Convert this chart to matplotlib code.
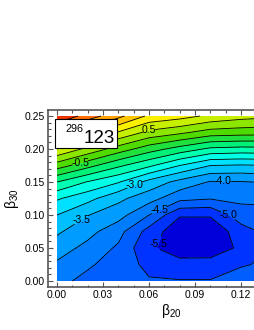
import numpy as np
import matplotlib
matplotlib.use("Agg")
import matplotlib.pyplot as plt
from matplotlib.patches import Rectangle
from matplotlib.ticker import MultipleLocator

plt.rcParams['font.family'] = ['Liberation Sans', 'DejaVu Sans']
plt.rcParams['axes.unicode_minus'] = False
plt.rcParams['contour.negative_linestyle'] = 'solid'

# grid (energy in MeV)
beta20 = [0.00, 0.02, 0.04, 0.06, 0.08, 0.10, 0.12, 0.14]
beta30 = [0.000, 0.025, 0.050, 0.075, 0.100, 0.125, 0.150, 0.175, 0.200, 0.225, 0.250]
energy = [
    [-4.38, -4.62, -4.80, -4.95, -4.97, -4.97, -4.75, -4.60],
    [-4.08, -4.44, -4.69, -5.15, -5.34, -5.33, -5.05, -4.90],
    [-3.76, -4.15, -4.58, -5.42, -5.75, -5.75, -5.42, -4.95],
    [-3.42, -3.83, -4.32, -5.20, -5.85, -5.85, -5.25, -4.80],
    [-3.00, -3.48, -3.80, -4.50, -5.45, -5.45, -4.70, -4.70],
    [-2.44, -2.84, -3.38, -3.80, -4.35, -4.47, -4.40, -4.35],
    [-1.50, -2.03, -2.46, -3.17, -3.66, -4.04, -4.03, -3.95],
    [-0.25, -0.83, -1.40, -1.90, -2.50, -3.00, -3.05, -3.00],
    [1.00, 0.36, -0.23, -0.77, -1.20, -1.60, -1.67, -1.65],
    [2.25, 1.60, 0.95, 0.36, 0.10, -0.22, -0.28, -0.30],
    [3.50, 2.77, 2.15, 1.40, 1.20, 0.90, 0.70, 0.60],
]

# contour labels: level, position
label_levels = [-0.5, 0.5, -3.0, -3.5, -4.0, -4.5, -5.0, -5.5]
label_x = [0.015, 0.060, 0.050, 0.016, 0.108, 0.066, 0.113, 0.067]
label_y = [0.180, 0.228, 0.150, 0.092, 0.155, 0.112, 0.108, 0.055]

levels = np.arange(-6.0, 3.51, 0.5)
band_colors = [
    (0.00, 0.00, 0.86), (0.00, 0.20, 1.00), (0.00, 0.37, 1.00), (0.00, 0.49, 1.00),
    (0.00, 0.61, 1.00), (0.00, 0.75, 1.00), (0.00, 0.88, 1.00), (0.00, 1.00, 0.90),
    (0.00, 1.00, 0.70), (0.00, 0.94, 0.47), (0.12, 0.88, 0.24), (0.31, 0.86, 0.00),
    (0.55, 0.90, 0.00), (0.78, 0.94, 0.00), (0.98, 0.94, 0.00), (1.00, 0.78, 0.00),
    (1.00, 0.63, 0.00), (1.00, 0.43, 0.00), (0.94, 0.20, 0.00),
]

fig = plt.figure(figsize=(2.55, 3.30), dpi=100)
ax = fig.add_axes([48 / 255, 43 / 330, 246 / 255, 177 / 330])

ax.contourf(beta20, beta30, energy, levels=levels, colors=band_colors)

# plain lines, then the labelled levels one by one
plain = [l for l in levels[1:-1] if round(l, 2) not in label_levels]
ax.contour(beta20, beta30, energy, levels=plain, colors='k', linewidths=0.6,
           linestyles='solid')
for lev, lx, ly in zip(label_levels, label_x, label_y):
    cs = ax.contour(beta20, beta30, energy, levels=[lev], colors='k', linewidths=0.6,
                    linestyles='solid')
    txts = ax.clabel(cs, manual=[(lx, ly)], fmt='%.1f', fontsize=7.5,
                     inline=True, inline_spacing=0)
    for t in txts:
        t.set_rotation(0)

# nucleus box
ax.add_patch(Rectangle((-0.0013, 0.2015), 0.0404, 0.044, fc='white', ec='black',
                       lw=0.8, zorder=5))
ax.text(0.0052, 0.2262, '296', fontsize=7.8, zorder=6)
ax.text(0.0175, 0.2085, '123', fontsize=13.5, zorder=6)

ax.set_xlim(-0.0059, 0.1546)
ax.set_ylim(-0.0091, 0.2591)
ax.set_xticks([0.00, 0.03, 0.06, 0.09, 0.12])
ax.set_yticks([0.00, 0.05, 0.10, 0.15, 0.20, 0.25])
ax.xaxis.set_major_formatter('{x:.2f}')
ax.yaxis.set_major_formatter('{x:.2f}')
ax.xaxis.set_minor_locator(MultipleLocator(0.01))
ax.yaxis.set_minor_locator(MultipleLocator(0.01))
ax.tick_params(which='both', direction='in', top=True, right=True, color='#555555',
               labelsize=7.5, width=0.8)
ax.tick_params(which='major', length=3.5, pad=2.5)
ax.tick_params(which='minor', length=1.8)
for sp in ax.spines.values():
    sp.set_color('#555555')
    sp.set_linewidth(1.2)

ax.set_xlabel(r'$\mathregular{\beta_{20}}$', fontsize=10, labelpad=1)
ax.set_ylabel(r'$\mathregular{\beta_{30}}$', fontsize=10, labelpad=2)

fig.savefig('out.png', dpi=100)
